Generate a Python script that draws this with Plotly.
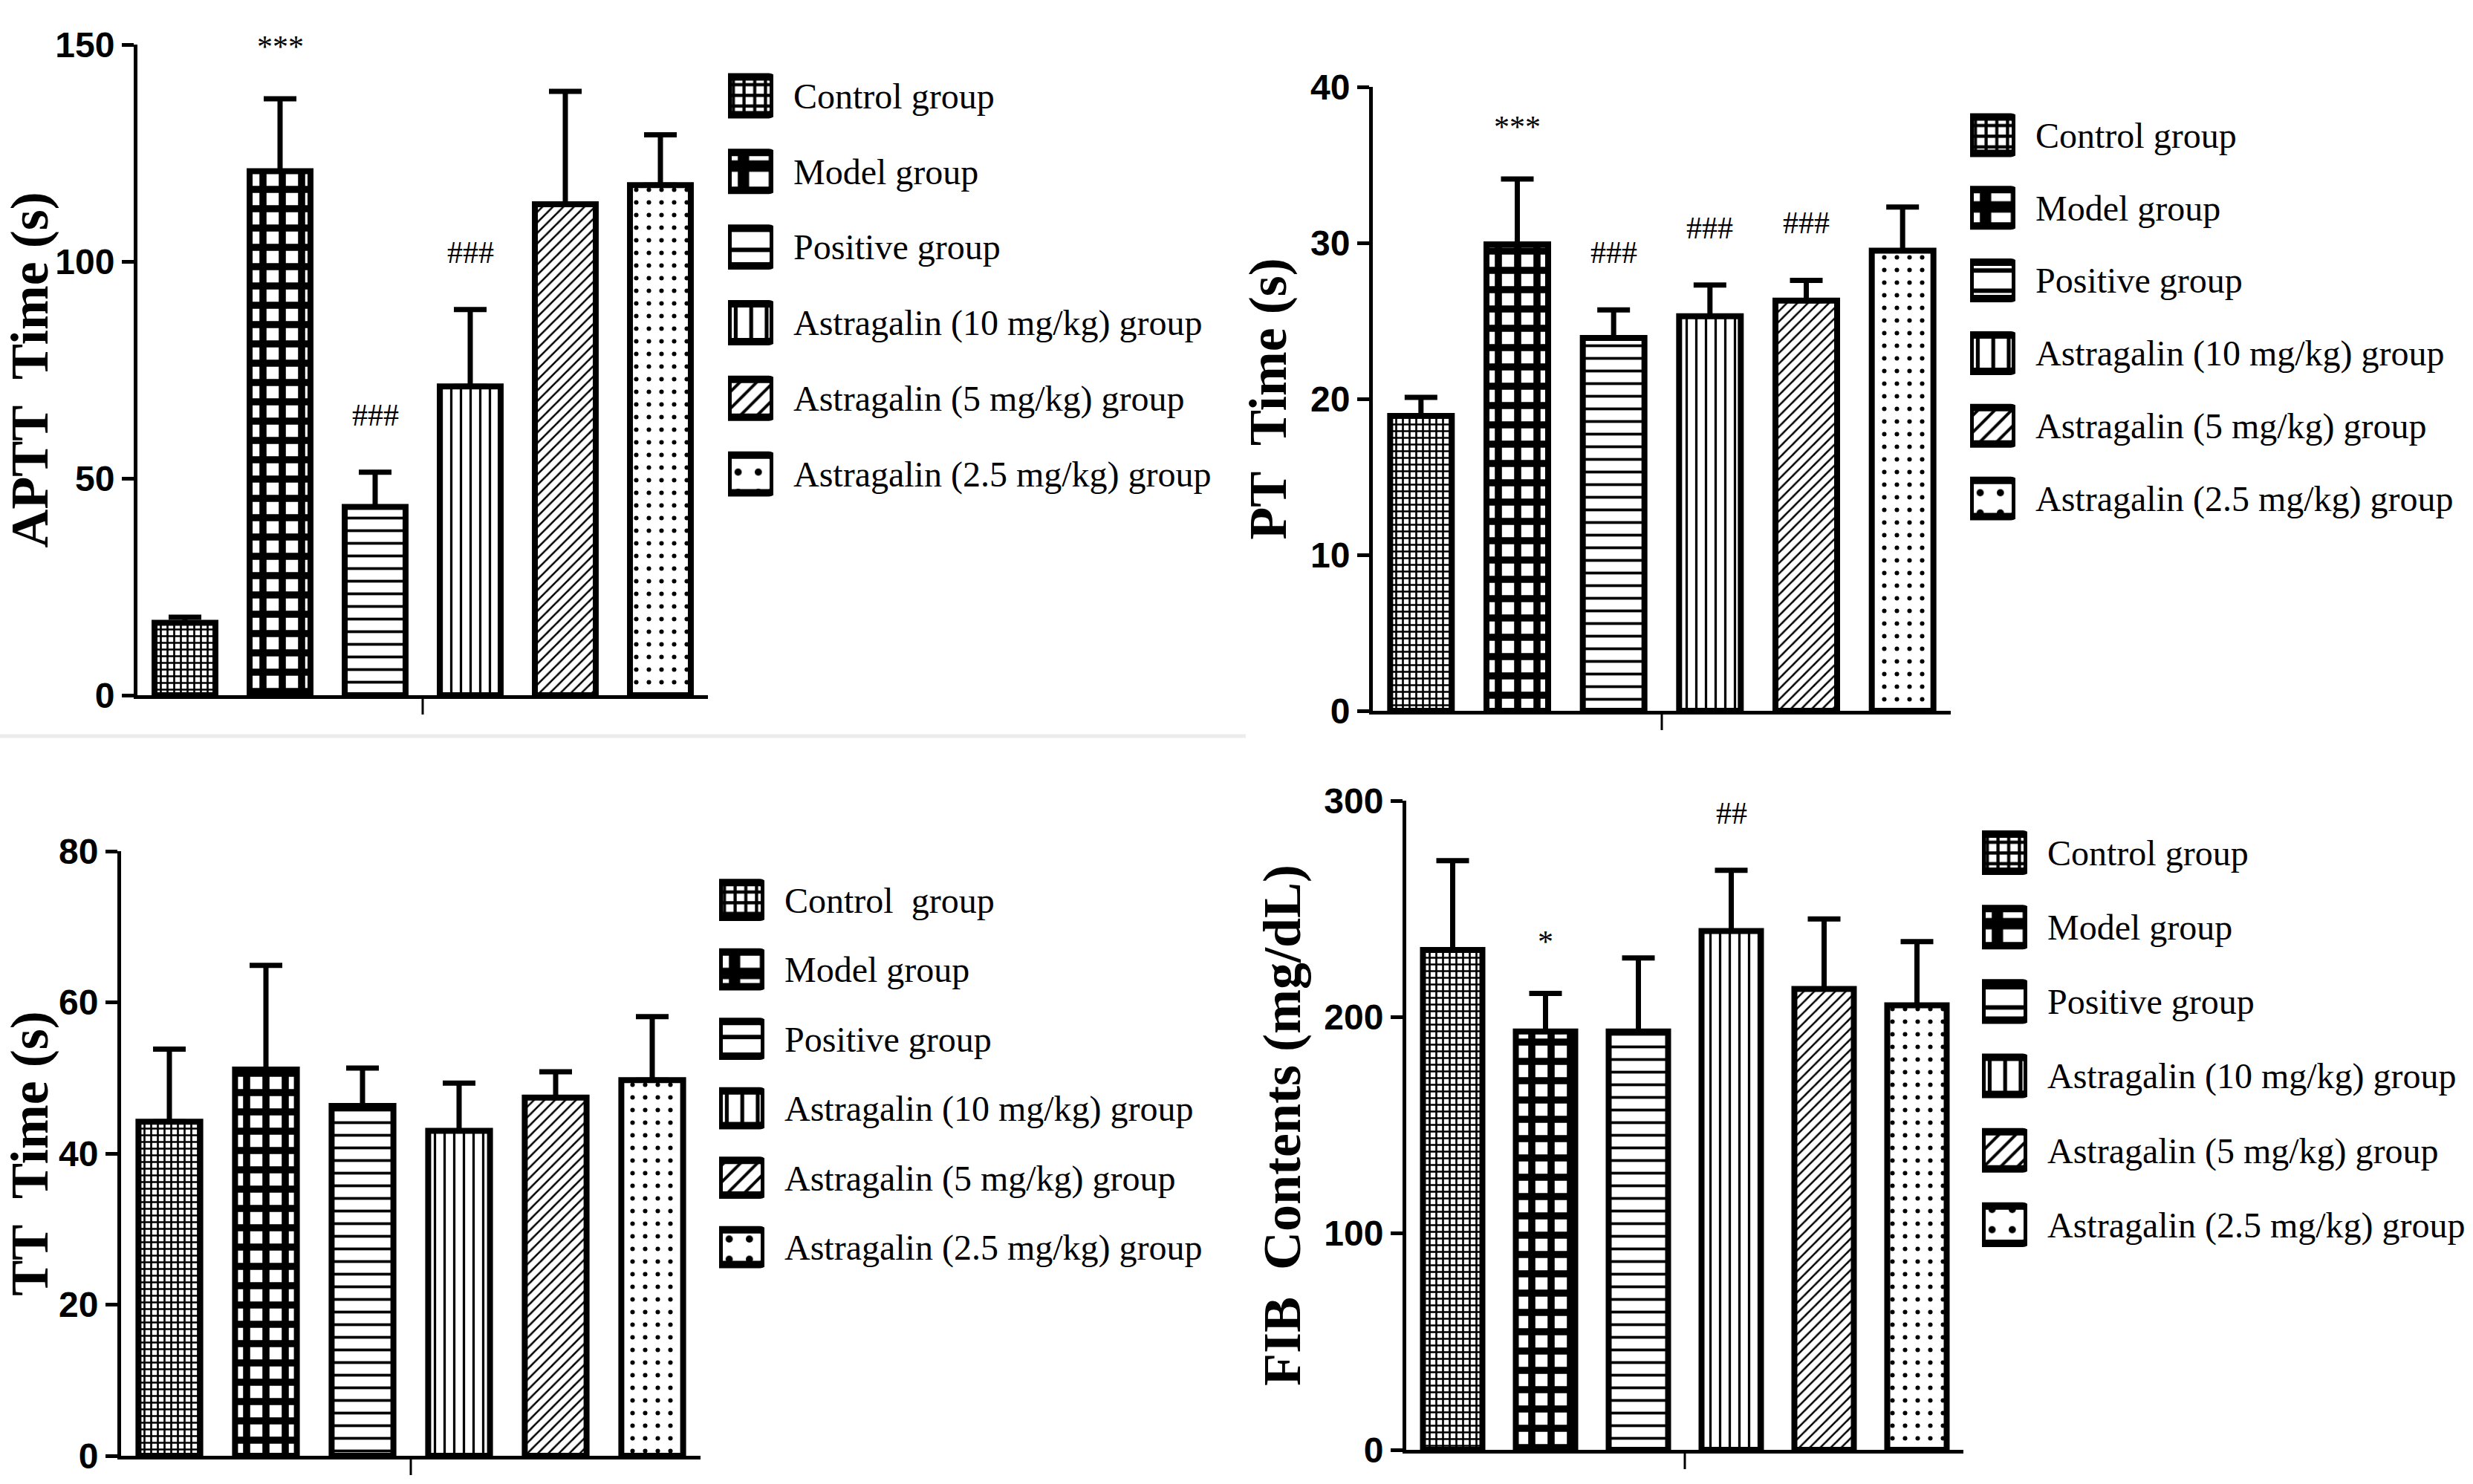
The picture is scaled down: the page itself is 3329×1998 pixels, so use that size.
"""Coagulation panels: APTT, PT, TT and FIB for the astragalin groups."""

import plotly.graph_objects as go

W, H = 3329, 1998

groups = [
    "Control group",
    "Model group",
    "Positive group",
    "Astragalin (10 mg/kg) group",
    "Astragalin (5 mg/kg) group",
    "Astragalin (2.5 mg/kg) group",
]
# the TT panel legend has a wider gap after "Control"
tt_labels = ["Control\u00a0 group"] + groups[1:]

# means and upper error (SEM)
aptt_mean = [16.7, 120.8, 43.4, 71.2, 113.2, 117.6]
aptt_err = [1.3, 16.7, 8.0, 17.7, 26.0, 11.6]
aptt_sig = ["", "***", "###", "###", "", ""]

pt_mean = [18.9, 29.9, 23.9, 25.3, 26.3, 29.5]
pt_err = [1.2, 4.2, 1.8, 2.0, 1.3, 2.8]
pt_sig = ["", "***", "###", "###", "###", ""]

tt_mean = [44.2, 51.1, 46.3, 43.0, 47.4, 49.7]
tt_err = [9.6, 13.8, 5.0, 6.3, 3.4, 8.4]
tt_sig = ["", "", "", "", "", ""]

fib_mean = [231.0, 193.3, 193.3, 239.8, 213.0, 205.4]
fib_err = [41.3, 17.6, 34.0, 28.0, 32.3, 29.5]
fib_sig = ["", "*", "", "##", "", ""]

# fill patterns, one per group
PAT_SHAPE = ["+", "+", "-", "|", "/", "."]
PAT_SIZE = [9, 26, 17, 13, 10, 17]
PAT_SOLID = [0.5, 0.6, 0.22, 0.25, 0.25, 0.1]
KEY_SCALE = 1.6

TICK_FONT = dict(family="Liberation Sans Narrow, Liberation Sans, Arial", size=48, color="black", weight="bold")
TITLE_FONT = dict(family="Liberation Serif, Times New Roman, serif", size=72, color="black", weight="bold")
KEY_FONT = dict(family="Liberation Serif, Times New Roman, serif", size=48, color="black")
SIG_FONT = dict(family="Liberation Serif, Times New Roman, serif", size=42, color="black")

# pixel boxes: plot (x0, x1, y_top, y_bottom) and legend key (x0, x1, y_top, y_bottom)
panels = [
    dict(mean=aptt_mean, err=aptt_err, sig=aptt_sig, title="APTT\u00a0 Time (s)", labels=groups,
         ymax=150, dtick=50, box=(185, 953, 60, 936), key=(975, 1046, 78, 689)),
    dict(mean=pt_mean, err=pt_err, sig=pt_sig, title="PT\u00a0 Time (s)", labels=groups,
         ymax=40, dtick=10, box=(1848, 2626, 117, 957), key=(2647, 2718, 133, 720)),
    dict(mean=tt_mean, err=tt_err, sig=tt_sig, title="TT\u00a0 Time (s)", labels=tt_labels,
         ymax=80, dtick=20, box=(163, 943, 1146, 1960), key=(963, 1034, 1165, 1726)),
    dict(mean=fib_mean, err=fib_err, sig=fib_sig, title="FIB\u00a0 Contents (mg/dL)", labels=groups,
         ymax=300, dtick=100, box=(1893, 2643, 1078, 1952), key=(2663, 2734, 1098, 1699)),
]


def fx(px):
    return px / W


def fy(py):
    return 1 - py / H


def ax_id(n):
    return "" if n == 1 else str(n)


fig = go.Figure()
shapes = []
annotations = []

for i, p in enumerate(panels):
    n = i + 1
    k = i + 5
    xa, ya = "x" + ax_id(n), "y" + ax_id(n)
    xk, yk = "x" + str(k), "y" + str(k)

    fig.add_trace(
        go.Bar(
            x=groups,
            y=p["mean"],
            width=0.64,
            xaxis=xa,
            yaxis=ya,
            marker=dict(
                color="white",
                line=dict(color="black", width=8),
                pattern=dict(shape=PAT_SHAPE, size=PAT_SIZE, solidity=PAT_SOLID,
                             fgcolor="black", bgcolor="white", fillmode="replace"),
            ),
            error_y=dict(type="data", symmetric=False, array=p["err"],
                         arrayminus=[0 for _ in p["err"]],
                         color="black", thickness=7, width=22),
            hoverinfo="skip",
            showlegend=False,
        )
    )

    # legend key drawn as a small bar chart with the group names as labels
    fig.add_trace(
        go.Bar(
            y=groups,
            x=[1 for _ in groups],
            orientation="h",
            width=0.5,
            xaxis=xk,
            yaxis=yk,
            marker=dict(
                color="white",
                cornerradius=6,
                line=dict(color="black", width=10),
                pattern=dict(shape=PAT_SHAPE, size=[s * KEY_SCALE for s in PAT_SIZE],
                             solidity=PAT_SOLID, fgcolor="black", bgcolor="white",
                             fillmode="replace"),
            ),
            hoverinfo="skip",
            showlegend=False,
        )
    )

    x0, x1, yt, yb = p["box"]
    fig.layout["xaxis" + ax_id(n)] = dict(
        domain=[fx(x0), fx(x1)], anchor=ya, type="category", range=[-0.5, 5.5],
        showline=True, linecolor="black", linewidth=5, ticks="", showticklabels=False,
        showgrid=False, zeroline=False, fixedrange=True, automargin=False,
    )
    fig.layout["yaxis" + ax_id(n)] = dict(
        domain=[fy(yb), fy(yt)], anchor=xa, range=[0, p["ymax"]], dtick=p["dtick"],
        showline=True, linecolor="black", linewidth=5, ticks="outside", ticklen=16,
        tickwidth=5, tickcolor="black", tickfont=TICK_FONT, showgrid=False, zeroline=False,
        title=dict(text=p["title"], font=TITLE_FONT, standoff=10), fixedrange=True,
        automargin=False,
    )

    kx0, kx1, kyt, kyb = p["key"]
    fig.layout["xaxis" + str(k)] = dict(
        domain=[fx(kx0 + 5), fx(kx1 - 5)], anchor=yk, range=[0, 1], visible=False,
        fixedrange=True, automargin=False,
    )
    fig.layout["yaxis" + str(k)] = dict(
        domain=[fy(kyb), fy(kyt)], anchor=xk, type="category", autorange="reversed",
        side="right", showline=False, ticks="", showgrid=False, zeroline=False,
        tickmode="array", tickvals=groups, ticktext=p["labels"],
        tickfont=KEY_FONT, ticklabelstandoff=26, fixedrange=True, automargin=False,
    )

    # single centre tick under the x axis
    shapes.append(dict(
        type="line", xref=xa + " domain", yref=ya + " domain", x0=0.5, x1=0.5,
        ysizemode="pixel", yanchor=0, y0=0, y1=-26, line=dict(color="black", width=3),
    ))

    for g, m, e, s in zip(groups, p["mean"], p["err"], p["sig"]):
        if s:
            annotations.append(dict(
                x=g, y=m + e, xref=xa, yref=ya, text=s, showarrow=False,
                yanchor="middle", yshift=70 if "*" in s else 77, font=SIG_FONT,
            ))

# faint separator under the top-left panel
shapes.append(dict(type="line", xref="paper", yref="paper", x0=0, x1=fx(1677),
                   y0=fy(991), y1=fy(991), line=dict(color="#ececec", width=5)))

fig.update_layout(
    width=W,
    height=H,
    margin=dict(l=0, r=0, t=0, b=0, autoexpand=False),
    paper_bgcolor="white",
    plot_bgcolor="white",
    showlegend=False,
    shapes=shapes,
    annotations=annotations,
)

fig.write_html("out.html", config={"displayModeBar": False},
               post_script="document.body.style.margin='0';")
